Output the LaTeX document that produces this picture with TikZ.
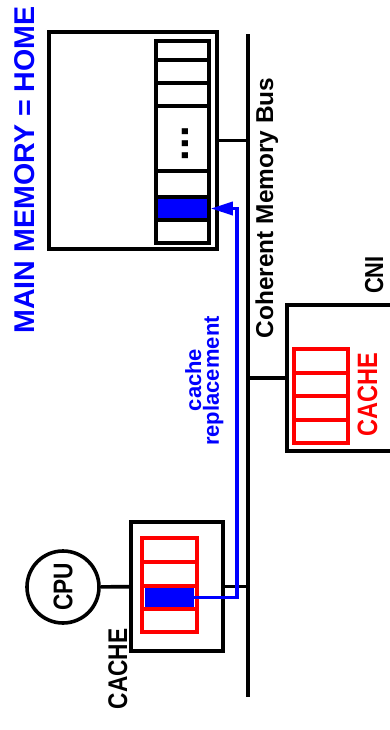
\documentclass[tikz,border=0pt]{standalone}
\usepackage{fontspec}
\setmainfont{Liberation Sans}
\newfontfamily\narrowsf[FakeStretch=0.84]{Liberation Sans}
\usetikzlibrary{arrows.meta,fit}
\begin{document}
\begin{tikzpicture}[x=0.5pt,y=-0.5pt,
  blk/.style={draw=black,line width=1.8pt},
  rd/.style={draw=red,line width=1.8pt},
  bl/.style={draw=blue,line width=1.7pt},
  fitbox/.style={inner sep=0pt,outer sep=0pt},
  lbl/.style={inner sep=0pt,rotate=90,anchor=base},
  narrowlbl/.style={lbl,font=\narrowsf\bfseries\fontsize{#1}{#1}\selectfont},
  widelbl/.style={lbl,font=\bfseries\fontsize{#1}{#1}\selectfont},
]
\useasboundingbox (0,0) rectangle (390,730);
\clip (0,0) rectangle (390,730);

% main memory
\node[blk,fitbox,fit={(49,32)(217,249)}] (mem) {};
\node[blk,fitbox,fit={(156,41)(209,243)}] (col) {};
\foreach \yy in {60,83,106,171,197,220} \draw[blk] (156,\yy) -- (209,\yy);
\node[fitbox,fill=blue,fit={(158,199)(207,218)}] (memblue) {};
\node[widelbl=21] (dots) at (188,143.5) {...};

% bus
\coordinate (bustop) at (248,34);
\coordinate (busbot) at (248,697);
\draw[blk] (bustop) -- (busbot);
\draw[blk] (mem.east) -- (mem.east -| bustop);

% CNI
\node[blk,fitbox,fit={(287,305)(430,451)}] (cni) {};
\draw[blk] (cni.west) -- (cni.west -| bustop);
\node[rd,fitbox,fit={(294,349)(348,443)}] (cnicache) {};
\foreach \yy in {373,396,420} \draw[rd] (294,\yy) -- (348,\yy);

% CPU
\node[blk,circle,minimum size=36pt,inner sep=0pt,font=\narrowsf\bfseries\fontsize{13.5}{13.5}\selectfont,rotate=90] (cpu) at (63,587) {CPU};
\node[blk,fitbox,fit={(131,522)(223,651)}] (cpucache) {};
\draw[blk] (cpu) -- (cpucache);
\draw[blk] (cpucache.east) -- (cpucache.east -| bustop);
\node[rd,fitbox,fit={(142,538)(197,632)}] (cpured) {};
\foreach \yy in {562,586,609} \draw[rd] (142,\yy) -- (197,\yy);
\node[fitbox,fill=blue,fit={(145,588)(194,607)}] (cpublue) {};

% replacement arrow
\coordinate (rise) at (237,400);
\draw[bl,-{Triangle[length=11pt,width=6.5pt]}] (cpublue.east) -| (rise) |- ([xshift=0.9pt]memblue.east -| col.east);

% labels
\node[widelbl=14.3,text=blue] (title) at (34,170) {MAIN MEMORY = HOME};
\node[widelbl=12.2] (buslbl) at (273,208) {Coherent Memory Bus};
\node[widelbl=11,text=blue] (cachet) at (201,380) {cache};
\node[widelbl=11,text=blue] (replt) at (219,381) {replacement};
\node[narrowlbl=14,text=red] (cnicachelbl) at (377,395) {CACHE};
\node[narrowlbl=13] (cnilbl) at (383,275) {CNI};
\node[narrowlbl=13.5] (cpucachelbl) at (127,669) {CACHE};
\end{tikzpicture}
\end{document}
